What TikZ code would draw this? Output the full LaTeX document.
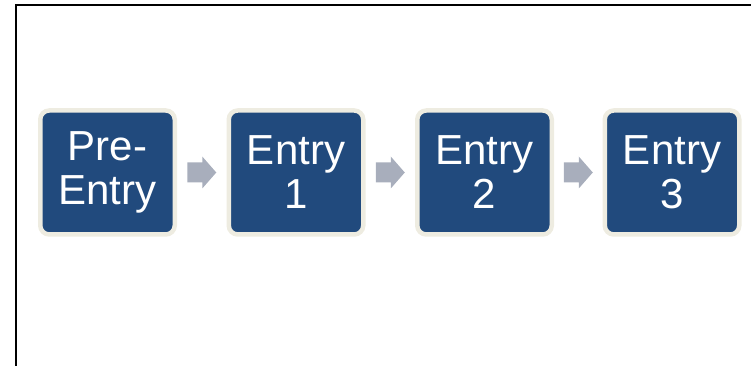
\documentclass[tikz,border=0pt]{standalone}
\usepackage{fontspec}
\setmainfont{Liberation Sans}
\usetikzlibrary{calc}
\definecolor{boxblue}{HTML}{214A7D}
\definecolor{boxcream}{HTML}{EEECE1}
\definecolor{arrowgray}{HTML}{A8AEBC}
\tikzset{
  stagebox/.style={draw=boxcream, fill=boxblue, line width=4.5pt, rounded corners=9pt,
    minimum width=134.5pt, minimum height=124pt, inner sep=0pt, align=center,
    text=white, font=\fontsize{42}{44}\selectfont},
  flowarrow/.style={fill=arrowgray, draw=none}
}
\begin{document}
\begin{tikzpicture}[x=1pt,y=1pt]
\useasboundingbox (0,0) rectangle (751,366);
\draw[line width=2pt] (16,0) -- (16,361) -- (751,361);
\node[stagebox] (a) at (107.5,193.5) {Pre-\\Entry};
\node[stagebox] (b) at (296,193.5) {Entry\\1};
\node[stagebox] (c) at (484.5,193.5) {Entry\\2};
\node[stagebox] (d) at (672,193.5) {Entry\\3};
\foreach \u/\v in {a/b,b/c,c/d}{
  \path[flowarrow] ($(\u.east)!0.5!(\v.west)$) ++(-14.5,-10) -- ++(15,0) -- ++(0,-6) -- ++(14,16) -- ++(-14,16) -- ++(0,-6) -- ++(-15,0) -- cycle;
}
\end{tikzpicture}
\end{document}
